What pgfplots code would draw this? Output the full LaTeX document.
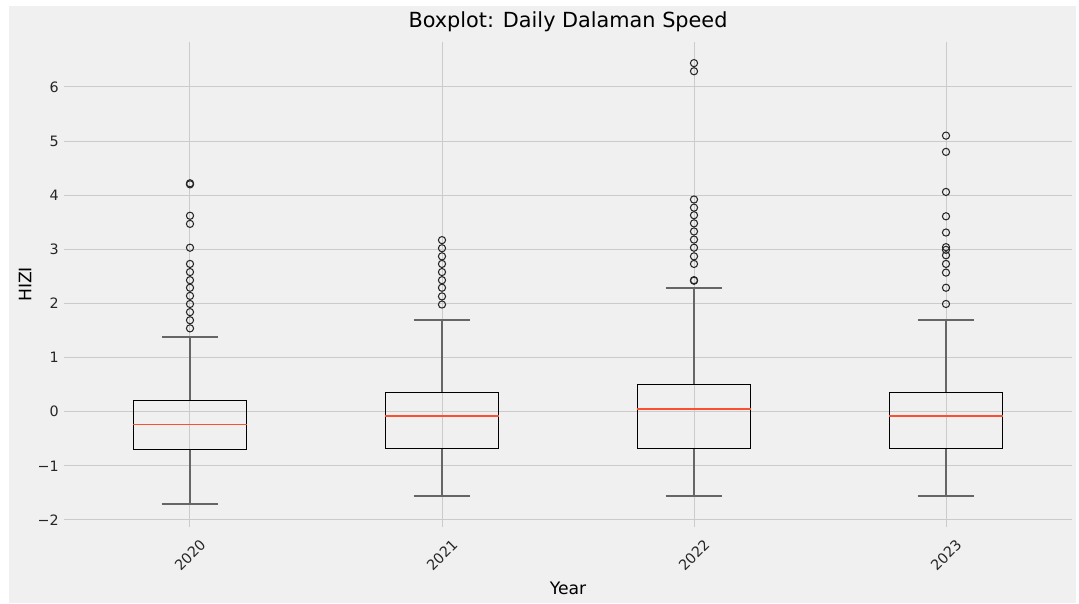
\documentclass[border=0pt]{standalone}
\usepackage{fontspec}
\setmainfont{DejaVu Sans}
\usepackage{pgfplots}
\pgfplotsset{compat=1.18}
\usepgfplotslibrary{statistics}
\definecolor{bgcol}{HTML}{F0F0F0}
\definecolor{gridcol}{HTML}{CBCBCB}
\definecolor{medcol}{HTML}{FC4F30}

\pgfplotsset{
  bx/.style={
    mark=o, mark size=3.6pt, mark options={draw=black!85, line width=1.05pt, fill=none},
    boxplot/every box/.style={draw=black, line width=1.1pt, fill=none},
    boxplot/every whisker/.style={draw=black!60, line width=1.6pt},
    boxplot/every median/.style={draw=medcol, line width=1.5pt},
  },
}

\begin{document}
\begin{tikzpicture}
% figure background (white margin, grey face)
\fill[white] (-64pt,-76pt) rectangle (1015pt,527pt);
\fill[bgcol] (-55pt,-76pt) rectangle (1012pt,521pt);
\begin{axis}[
    at={(0pt,0pt)}, anchor=south west,
    scale only axis,
    width=1008pt, height=485pt,
    xmin=0.5, xmax=4.5,
    ymin=-2.13, ymax=6.83,
    axis line style={draw=none},
    axis background/.style={fill=bgcol},
    major tick length=0pt,
    xtick={1,2,3,4},
    xticklabels={2020,2021,2022,2023},
    ytick={-2,-1,0,1,2,3,4,5,6},
    yticklabels={−2,−1,0,1,2,3,4,5,6},
    xmajorgrids, ymajorgrids,
    grid style={gridcol, line width=1pt},
    tick label style={font=\fontsize{14.3}{16}\selectfont, black!85},
    yticklabel style={anchor=east, inner sep=0pt, xshift=-5pt},
    xticklabel style={yshift=-28pt, rotate=45, anchor=center, inner sep=0pt},
    title={Boxplot: Daily Dalaman Speed},
    title style={font=\fontsize{20.8}{24}\selectfont, at={(axis description cs:0.5,1)}, anchor=base, yshift=9pt, inner sep=0pt},
    xlabel={Year},
    xlabel style={font=\fontsize{17.2}{20}\selectfont, at={(axis description cs:0.5,0)}, anchor=base, yshift=-67pt, inner sep=0pt},
    ylabel={HIZI},
    ylabel style={font=\fontsize{17.2}{20}\selectfont, at={(axis description cs:-0.0387,0.5)}, anchor=center, inner sep=0pt},
    boxplot/draw direction=y,
]
% 2020
\addplot[bx, boxplot prepared={draw position=1, lower whisker=-1.71, lower quartile=-0.69,
    median=-0.24, upper quartile=0.20, upper whisker=1.38, box extend=0.45, whisker extend=0.225}]
  table[row sep=\\, y index=0] {y\\ 4.22\\ 4.20\\ 3.62\\ 3.47\\ 3.03\\ 2.73\\ 2.58\\ 2.43\\
    2.29\\ 2.14\\ 1.99\\ 1.84\\ 1.69\\ 1.54\\};
% 2021
\addplot[bx, boxplot prepared={draw position=2, lower whisker=-1.56, lower quartile=-0.68,
    median=-0.08, upper quartile=0.35, upper whisker=1.69, box extend=0.45, whisker extend=0.225}]
  table[row sep=\\, y index=0] {y\\ 3.17\\ 3.02\\ 2.87\\ 2.73\\ 2.58\\ 2.43\\ 2.29\\ 2.13\\ 1.98\\};
% 2022
\addplot[bx, boxplot prepared={draw position=3, lower whisker=-1.56, lower quartile=-0.68,
    median=0.05, upper quartile=0.50, upper whisker=2.28, box extend=0.45, whisker extend=0.225}]
  table[row sep=\\, y index=0] {y\\ 6.44\\ 6.29\\ 3.92\\ 3.77\\ 3.63\\ 3.48\\ 3.33\\ 3.18\\
    3.03\\ 2.87\\ 2.73\\ 2.43\\ 2.42\\};
% 2023
\addplot[bx, boxplot prepared={draw position=4, lower whisker=-1.56, lower quartile=-0.68,
    median=-0.08, upper quartile=0.35, upper whisker=1.69, box extend=0.45, whisker extend=0.225}]
  table[row sep=\\, y index=0] {y\\ 5.10\\ 4.80\\ 4.06\\ 3.61\\ 3.31\\ 3.04\\ 2.99\\ 2.89\\
    2.73\\ 2.57\\ 2.29\\ 1.99\\};
\end{axis}
\pgfresetboundingbox
\useasboundingbox (-64pt,-76pt) rectangle (1015pt,527pt);
\end{tikzpicture}
\end{document}
